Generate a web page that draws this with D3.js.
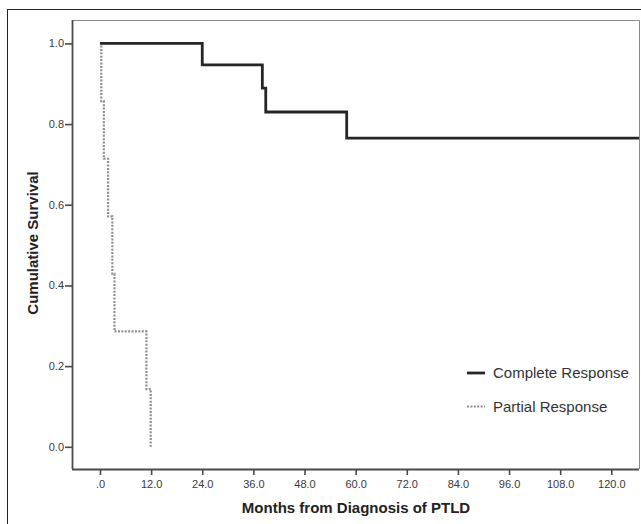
<!DOCTYPE html>
<html>
<head>
<meta charset="utf-8">
<script src="https://cdn.jsdelivr.net/npm/d3@7"></script>
<style>
  html, body { margin: 0; padding: 0; background: #fff; }
  svg { display: block; }
  text { font-family: "Liberation Sans", Arial, sans-serif; }
</style>
</head>
<body>
<script>
// ---- Data ----
const seriesNames = ["Complete Response", "Partial Response"];
const crTimes = [0, 24.0, 38.1, 38.9, 57.9, 126.5];
const crSurv  = [1.0, 0.947, 0.889, 0.830, 0.765, 0.765];
const prTimes = [0, 0.3, 0.9, 1.9, 2.9, 3.4, 10.9, 11.9];
const prSurv  = [1.0, 0.857, 0.714, 0.571, 0.429, 0.286, 0.143, 0.0];
const xTicks = [0, 12, 24, 36, 48, 60, 72, 84, 96, 108, 120];
const yTicks = [0, 0.2, 0.4, 0.6, 0.8, 1.0];
const xTitle = "Months from Diagnosis of PTLD";
const yTitle = "Cumulative Survival";

const W = 641, H = 524;
const plot = { left: 72, right: 639, top: 20, bottom: 469 };

const svg = d3.select("body").append("svg").attr("width", W).attr("height", H);

// outer frame (only top/left visible in reference)
svg.append("rect").attr("x", 7.5).attr("y", 9.5).attr("width", W + 20).attr("height", H + 20)
  .attr("fill", "none").attr("stroke", "#222").attr("stroke-width", 1);

const x = d3.scaleLinear().domain([-6.57, 126.5]).range([plot.left, plot.right]);
const y = d3.scaleLinear().domain([-0.055, 1.058]).range([plot.bottom, plot.top]);

// plot frame (top & right lighter)
svg.append("path")
  .attr("d", `M${plot.left},${plot.top + 0.5}H${plot.right + 0.5}V${plot.bottom}`)
  .attr("fill", "none").attr("stroke", "#8a8a8a").attr("stroke-width", 1);

svg.append("defs").append("clipPath").attr("id", "clip")
  .append("rect").attr("x", plot.left).attr("y", plot.top)
  .attr("width", plot.right - plot.left).attr("height", plot.bottom - plot.top);

const line = d3.line().x(d => x(d[0])).y(d => y(d[1])).curve(d3.curveStepAfter);
const g = svg.append("g").attr("clip-path", "url(#clip)");

g.append("path").datum(prTimes.map((t, i) => [t, prSurv[i]]))
  .attr("d", line).attr("fill", "none").attr("stroke", "#8e8e8e")
  .attr("stroke-width", 2.2).attr("stroke-dasharray", "2,1.4");

g.append("path").datum(crTimes.map((t, i) => [t, crSurv[i]]))
  .attr("d", line).attr("fill", "none").attr("stroke", "#262626")
  .attr("stroke-width", 2.8).attr("stroke-linejoin", "miter");

// axes
const fmtX = d => d === 0 ? ".0" : d.toFixed(1);
const xAxis = svg.append("g").attr("transform", `translate(0,${plot.bottom})`)
  .call(d3.axisBottom(x).tickValues(xTicks).tickFormat(fmtX).tickSize(6).tickPadding(5).tickSizeOuter(0));
const yAxis = svg.append("g").attr("transform", `translate(${plot.left},0)`)
  .call(d3.axisLeft(y).tickValues(yTicks).tickFormat(d => d.toFixed(1)).tickSize(7).tickPadding(1).tickSizeOuter(0));

[xAxis, yAxis].forEach(a => {
  a.select(".domain").attr("stroke", "#4a4a4a").attr("stroke-width", 1.8);
  a.selectAll(".tick line").attr("stroke", "#4a4a4a").attr("stroke-width", 1.6);
  a.selectAll(".tick text").attr("fill", "#3a3a3a").style("font-size", "11px")
    .style("font-family", '"Liberation Sans", Arial, sans-serif');
});
// extend domain lines to the frame corners
xAxis.select(".domain").attr("d", `M${plot.left},0.5H${plot.right}`);
yAxis.select(".domain").attr("d", `M0.5,${plot.top}V${plot.bottom}`);

// titles
svg.append("text").attr("x", 356).attr("y", 513).attr("text-anchor", "middle")
  .attr("font-weight", "bold").attr("font-size", 15).attr("fill", "#222").text(xTitle);
svg.append("text").attr("transform", "translate(37.5,243) rotate(-90)").attr("text-anchor", "middle")
  .attr("font-weight", "bold").attr("font-size", 15).attr("fill", "#222").text(yTitle);

// legend
const legendY = [373, 406.5];
const leg = svg.append("g");
leg.append("line").attr("x1", 467).attr("x2", 485).attr("y1", legendY[0]).attr("y2", legendY[0])
  .attr("stroke", "#262626").attr("stroke-width", 2.8);
leg.append("line").attr("x1", 467).attr("x2", 485).attr("y1", legendY[1]).attr("y2", legendY[1])
  .attr("stroke", "#8e8e8e").attr("stroke-width", 2.2).attr("stroke-dasharray", "2,1.4");
seriesNames.forEach((n, i) => {
  leg.append("text").attr("x", 493).attr("y", legendY[i]).attr("dy", "0.35em")
    .attr("font-size", 15).attr("fill", "#333").text(n);
});
</script>
</body>
</html>
